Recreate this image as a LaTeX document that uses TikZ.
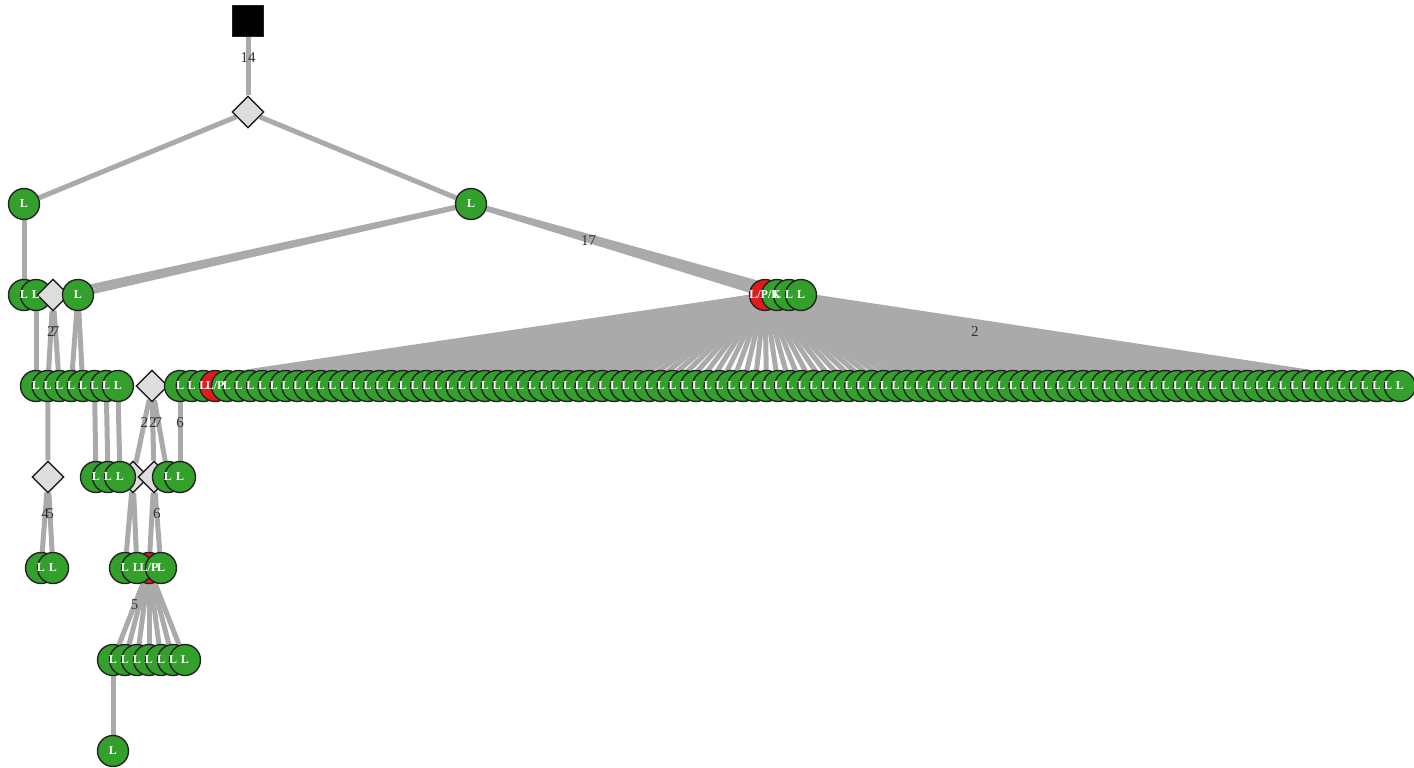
\documentclass[tikz,border=0pt]{standalone}
\usepackage{fontspec}
\setmainfont{Liberation Serif}
\usepackage{tikz}
\usetikzlibrary{shapes.geometric,backgrounds,calc}

\definecolor{leafgreen}{RGB}{51,160,44}
\definecolor{leafred}{RGB}{227,26,28}
\definecolor{linkgray}{RGB}{170,170,170}
\definecolor{chancegray}{RGB}{221,221,221}
\definecolor{rim}{RGB}{34,34,34}

\begin{document}
\begin{tikzpicture}[
  x=1pt, y=-1pt,
  leaf/.style={circle, draw=rim, line width=1.4pt, fill=leafgreen, minimum size=31pt, inner sep=0pt},
  redleaf/.style={leaf, fill=leafred},
  chance/.style={diamond, draw=rim, line width=1.4pt, fill=chancegray, minimum size=32pt, inner sep=0pt},
  rootbox/.style={rectangle, draw=rim, line width=1pt, fill=black, minimum size=31pt, inner sep=0pt},
  link/.style={draw=linkgray, line width=5pt},
  tag/.style={text=white, font=\bfseries\fontsize{12}{12}\selectfont, inner sep=0pt},
  elabel/.style={text=black!80, font=\fontsize{15}{15}\selectfont, inner sep=0pt}
]
\useasboundingbox (0,0) rectangle (1414,768);

\node[rootbox] (sq) at (248,21) {};
\node[chance] (d0) at (248,112) {};
\node[leaf] (a1) at (24,204) {};
\node[leaf] (a2) at (471,204) {};

\node[leaf] (b1) at (24,295) {};
\node[leaf] (b2) at (36,295) {};
\node[chance] (bd) at (53,295) {};
\node[leaf] (b3) at (78,295) {};
\node[redleaf] (c0) at (765,295) {};
\node[leaf] (c1) at (777,295) {};
\node[leaf] (c2) at (789,295) {};
\node[leaf] (c3) at (801,295) {};

\foreach \i in {0,...,7}
  \node[leaf] (r\i) at ({36+11.7*\i},386) {};
\node[chance] (rd) at (152,386) {};
\foreach \i in {0,...,104} {
  \ifnum\i=3
    \node[redleaf] (s\i) at ({180+11.73*\i},386) {};
  \else
    \node[leaf] (s\i) at ({180+11.73*\i},386) {};
  \fi
}

\node[chance] (e0) at (48,477) {};
\node[chance] (ed1) at (133,477) {};
\node[chance] (ed2) at (154,477) {};
\node[leaf] (e1) at (96,477) {};
\node[leaf] (e2) at (108,477) {};
\node[leaf] (e3) at (120,477) {};
\node[leaf] (e4) at (168,477) {};
\node[leaf] (e5) at (180,477) {};

\node[leaf] (f0) at (41,568) {};
\node[leaf] (f1) at (53,568) {};
\node[redleaf] (f4) at (149,568) {};
\node[leaf] (f2) at (125,568) {};
\node[leaf] (f3) at (137,568) {};
\node[leaf] (f5) at (161,568) {};

\foreach \i in {0,...,6}
  \node[leaf] (g\i) at ({113+12*\i},660) {};
\node[leaf] (h0) at (113,751) {};

\begin{scope}[on background layer]
\draw[link] (sq) -- (d0);
\draw[link] (d0) -- (a1);
\draw[link] (d0) -- (a2);
\draw[link] (a1) -- (b1);
\draw[link] (a2) -- (bd);
\draw[link] (a2) -- (b3);
\foreach \j in {0,...,3}
  \draw[link] (a2) -- (c\j);
\draw[link] (b2) -- (r0);
\draw[link] (bd) -- (r1);
\draw[link] (bd) -- (r2);
\draw[link] (b3) -- (r3);
\draw[link] (b3) -- (r4);
\draw[link] (c0) -- (rd);
\foreach \i in {0,...,104}
  \draw[link] (c0) -- (s\i);
\draw[link] (c3) -- (s90);
\draw[link] (c3) -- (s104);
\draw[link] (r1) -- (e0);
\draw[link] (r5) -- (e1);
\draw[link] (r6) -- (e2);
\draw[link] (r7) -- (e3);
\draw[link] (rd) -- (ed1);
\draw[link] (rd) -- (ed2);
\draw[link] (rd) -- (e4);
\draw[link] (s0) -- (e5);
\draw[link] (e0) -- (f0);
\draw[link] (e0) -- (f1);
\draw[link] (ed1) -- (f2);
\draw[link] (ed1) -- (f3);
\draw[link] (ed2) -- (f4);
\draw[link] (ed2) -- (f5);
\foreach \i in {0,...,6}
  \draw[link] (f4) -- (g\i);
\draw[link] (g0) -- (h0);
\end{scope}

\foreach \n in {a1,a2,b1,b2,b3,c1,c2,c3,r0,r1,r2,r3,r4,r5,r6,r7,e1,e2,e3,e4,e5,f0,f1,f2,f3,f5,h0}
  \node[tag] at (\n) {L};
\foreach \i in {0,...,104} {
  \ifnum\i=3 \else \node[tag] at (s\i) {L}; \fi
}
\foreach \i in {0,...,6}
  \node[tag] at (g\i) {L};
\node[tag] at (s3) {L/P};
\node[tag] at (f4) {L/P};
\node[tag] at (c0) {L/P/K};

\node[elabel] at ($(sq)!0.4!(d0)$) {14};
\node[elabel] at ($(a2)!0.4!(c0)$) {17};
\node[elabel] at ($(c3)!0.4!(s90)$) {2};
\node[elabel] at ($(bd)!0.4!(r1)$) {2};
\node[elabel] at ($(bd)!0.4!(r2)$) {7};
\node[elabel] at ($(rd)!0.4!(ed1)$) {2};
\node[elabel] at ($(rd)!0.4!(ed2)$) {2};
\node[elabel] at ($(rd)!0.4!(e4)$) {7};
\node[elabel] at ($(s0)!0.4!(e5)$) {6};
\node[elabel] at ($(e0)!0.4!(f0)$) {4};
\node[elabel] at ($(e0)!0.4!(f1)$) {5};
\node[elabel] at ($(ed2)!0.4!(f5)$) {6};
\node[elabel] at ($(f4)!0.4!(g0)$) {5};
\end{tikzpicture}
\end{document}
